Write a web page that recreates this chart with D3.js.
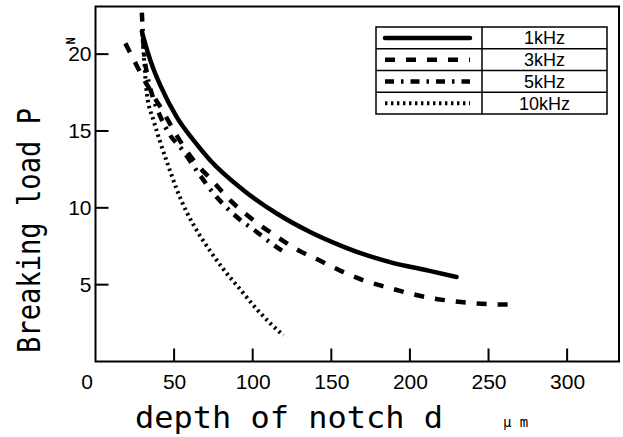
<!DOCTYPE html>
<html>
<head>
<meta charset="utf-8">
<script src="https://cdn.jsdelivr.net/npm/d3@7"></script>
<style>
  html, body { margin: 0; padding: 0; background: #fff; }
  svg { display: block; }
  text { fill: #000; }
</style>
</head>
<body>
<div id="container"></div>
<script>
// Chart Data (depth of notch d in um, breaking load P in N)
var freqLabels = ["1kHz", "3kHz", "5kHz", "10kHz"];

var load1k = [
  [29.5, 21.47], [33, 20.2], [37, 19.0], [41.1, 18.0], [51.7, 15.9], [62.3, 14.4],
  [72.9, 13.1], [94.1, 11.15], [115.3, 9.63], [136.5, 8.43], [155.6, 7.56],
  [170, 7.0], [187.3, 6.47], [210, 5.95], [229.7, 5.5]
];
var load3k = [
  [19, 20.7], [23, 19.9], [26.5, 19.2], [30, 18.5], [34, 17.8], [38, 17.1],
  [42.2, 16.4], [51.7, 14.7], [62.3, 13.1], [74, 11.8], [85.6, 10.5],
  [100.4, 9.2], [115, 8.15], [129, 7.24], [143, 6.55], [157, 5.85],
  [170, 5.3], [185, 4.84], [198, 4.48], [212, 4.15], [225.5, 3.95],
  [239, 3.8], [253, 3.72], [265, 3.7]
];
var load5k = [
  [29.5, 22.7], [30, 21.5], [31, 20], [33, 18.6], [36.5, 17.2], [41, 16],
  [47, 14.8], [55, 13.8], [64.5, 12.4], [75, 10.95], [88.8, 9.5],
  [103.6, 8.35], [113, 7.6], [120.5, 7.1]
];
var load10k = [
  [29.8, 21.3], [30.8, 19.8], [32.7, 17.4], [36.9, 15.7], [41.1, 14.3],
  [46.4, 12.7], [51.7, 11.2], [58.1, 9.7], [65.5, 8.35], [72.9, 7.2],
  [81.4, 6.0], [92, 4.7], [102.6, 3.4], [111, 2.5], [119.5, 1.7]
];

var xTicks = [0, 50, 100, 150, 200, 250, 300];
var yTicks = [5, 10, 15, 20];

// Line Styles For Each Frequency
var styles = [
  { width: 4.5, dash: null },
  { width: 4.5, dash: "10,11" },
  { width: 4.5, dash: "9,7,2.5,7" },
  { width: 4, dash: "2.4,3.6" }
];
var series = [load1k, load3k, load5k, load10k];

var W = 623, H = 437;
var plot = { left: 95.5, right: 619, top: 6.5, bottom: 361.5 };
var TICK = 13;

var svg = d3.select("#container").append("svg")
    .attr("width", W)
    .attr("height", H);

var x = d3.scaleLinear().domain([0, 333]).range([plot.left, plot.right]);
var y = d3.scaleLinear().domain([0, 23.1]).range([plot.bottom, plot.top]);

var tickFont = "'Liberation Sans Narrow', 'Liberation Sans', Arial, sans-serif";

// X Axis Labels From The Library's Axis
var xAxis = svg.append("g")
    .attr("transform", "translate(0," + plot.bottom + ")")
    .call(d3.axisBottom(x).tickValues(xTicks).tickSize(0).tickPadding(13));
xAxis.select(".domain").remove();
xAxis.selectAll(".tick text")
    .style("font-family", tickFont)
    .style("font-size", "21px")
    .attr("fill", "#000");
// The Zero Label Sits Left Of The Corner
xAxis.selectAll(".tick").filter(function(d) { return d === 0; })
    .select("text").attr("x", -9);

// Y Axis Labels
var yAxis = svg.append("g")
    .attr("transform", "translate(" + plot.left + ",0)")
    .call(d3.axisLeft(y).tickValues(yTicks).tickSize(0).tickPadding(4));
yAxis.select(".domain").remove();
yAxis.selectAll(".tick text")
    .style("font-family", tickFont)
    .style("font-size", "21px")
    .attr("fill", "#000");

// Inward Tick Marks
svg.append("g").selectAll("line")
    .data(xTicks.filter(function(d) { return d > 0; }))
    .enter().append("line")
    .attr("x1", function(d) { return x(d); })
    .attr("x2", function(d) { return x(d); })
    .attr("y1", plot.bottom)
    .attr("y2", plot.bottom - TICK)
    .attr("stroke", "#000")
    .attr("stroke-width", 2);
svg.append("g").selectAll("line")
    .data(yTicks)
    .enter().append("line")
    .attr("x1", plot.left)
    .attr("x2", plot.left + TICK)
    .attr("y1", function(d) { return y(d); })
    .attr("y2", function(d) { return y(d); })
    .attr("stroke", "#000")
    .attr("stroke-width", 2);

// Plot Frame
svg.append("rect")
    .attr("x", plot.left)
    .attr("y", plot.top)
    .attr("width", plot.right - plot.left)
    .attr("height", plot.bottom - plot.top)
    .attr("fill", "none")
    .attr("stroke", "#000")
    .attr("stroke-width", 2);

// Curves
var line = d3.line()
    .x(function(d) { return x(d[0]); })
    .y(function(d) { return y(d[1]); })
    .curve(d3.curveMonotoneX);

series.forEach(function(data, i) {
  svg.append("path")
      .datum(data)
      .attr("d", line)
      .attr("fill", "none")
      .attr("stroke", "#000")
      .attr("stroke-width", styles[i].width)
      .attr("stroke-dasharray", styles[i].dash)
      .attr("stroke-linecap", i === 0 ? "round" : "butt");
});

// Legend Table
var legend = { left: 376, right: 607, top: 27, rowH: 21.75, split: 482 };
var lg = svg.append("g");
lg.append("rect")
    .attr("x", legend.left)
    .attr("y", legend.top)
    .attr("width", legend.right - legend.left)
    .attr("height", legend.rowH * freqLabels.length)
    .attr("fill", "#fff")
    .attr("stroke", "#000")
    .attr("stroke-width", 1.5);
lg.append("line")
    .attr("x1", legend.split).attr("x2", legend.split)
    .attr("y1", legend.top).attr("y2", legend.top + legend.rowH * freqLabels.length)
    .attr("stroke", "#000").attr("stroke-width", 1.5);

freqLabels.forEach(function(label, i) {
  var rowTop = legend.top + i * legend.rowH;
  var cy = rowTop + legend.rowH / 2;
  if (i > 0) {
    lg.append("line")
        .attr("x1", legend.left).attr("x2", legend.right)
        .attr("y1", rowTop).attr("y2", rowTop)
        .attr("stroke", "#000").attr("stroke-width", 1.5);
  }
  lg.append("line")
      .attr("x1", 385).attr("x2", 470)
      .attr("y1", cy).attr("y2", cy)
      .attr("stroke", "#000")
      .attr("stroke-width", styles[i].width)
      .attr("stroke-dasharray", styles[i].dash)
      .attr("stroke-linecap", i === 0 ? "round" : "butt");
  lg.append("text")
      .attr("x", (legend.split + legend.right) / 2)
      .attr("y", cy)
      .attr("dy", "0.36em")
      .attr("text-anchor", "middle")
      .style("font-family", tickFont)
      .style("font-size", "18px")
      .text(label);
});

// Axis Titles
var titleFont = "'DejaVu Sans Mono', 'DejaVu Sans', sans-serif";
svg.append("text")
    .attr("transform", "translate(40,353) rotate(-90)")
    .attr("textLength", 245)
    .attr("lengthAdjust", "spacingAndGlyphs")
    .style("font-family", titleFont)
    .style("font-size", "32px")
    .text("Breaking load P");
svg.append("text")
    .attr("transform", "translate(75,41) rotate(-90)")
    .attr("text-anchor", "middle")
    .style("font-family", titleFont)
    .style("font-size", "12px")
    .style("font-weight", "bold")
    .text("N");

svg.append("text")
    .attr("x", 135)
    .attr("y", 428)
    .attr("textLength", 308)
    .attr("lengthAdjust", "spacingAndGlyphs")
    .style("font-family", titleFont)
    .style("font-size", "31px")
    .text("depth of notch d");
svg.append("text")
    .attr("x", 503)
    .attr("y", 427)
    .style("font-family", titleFont)
    .style("font-size", "14px")
    .text("μ m");
</script>
</body>
</html>
